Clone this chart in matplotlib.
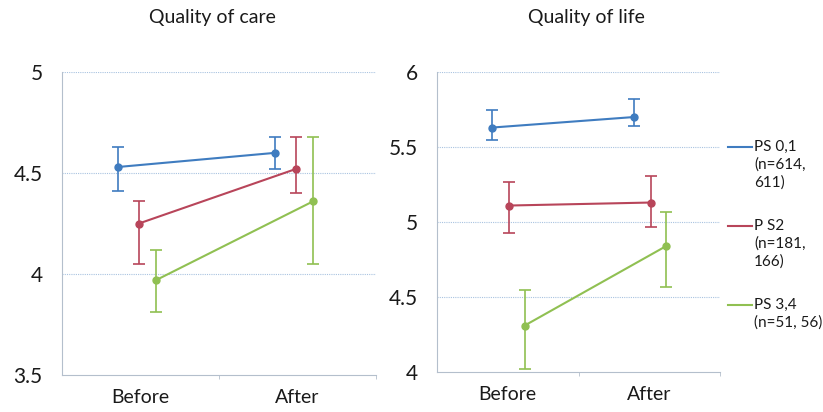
import matplotlib.pyplot as plt
from matplotlib.lines import Line2D

plt.rcParams["font.family"] = ["Lato", "DejaVu Sans"]

# Data
times = ["Before", "After"]
groups = ["PS 0,1\n(n=614,\n611)", "P S2\n(n=181,\n166)", "PS 3,4\n(n=51, 56)"]
colors = ["#3f7cc0", "#b8455a", "#90c052"]

care_mean = [[4.53, 4.60], [4.25, 4.52], [3.97, 4.36]]
care_low = [[4.41, 4.52], [4.05, 4.40], [3.81, 4.05]]
care_high = [[4.63, 4.68], [4.36, 4.68], [4.12, 4.68]]

life_mean = [[5.63, 5.70], [5.11, 5.13], [4.31, 4.84]]
life_low = [[5.55, 5.64], [4.93, 4.97], [4.02, 4.57]]
life_high = [[5.75, 5.82], [5.27, 5.31], [4.55, 5.07]]

fig = plt.figure(figsize=(8.23, 4.12), dpi=100)
ax1 = fig.add_axes([0.0753, 0.0898, 0.3815, 0.7354])
ax2 = fig.add_axes([0.531, 0.0971, 0.3439, 0.728])

grid_col = "#a9c3e0"
spine_col = "#b4bfcc"
text_col = "#1a1a1a"


def draw_panel(ax, mean, low, high, offsets, ylim, yticks, ylabels):
    for i in range(len(groups)):
        x = [t + offsets[i] for t in range(len(times))]
        yerr = [[m - l for m, l in zip(mean[i], low[i])],
                [h - m for m, h in zip(mean[i], high[i])]]
        ax.errorbar(x, mean[i], yerr=yerr, color=colors[i], lw=1.5,
                    marker="o", ms=5, capsize=4, capthick=1.2, elinewidth=1.2,
                    zorder=3)
    ax.set_xlim(-0.5, 1.5)
    ax.set_ylim(*ylim)
    ax.set_yticks(yticks)
    ax.set_yticklabels(ylabels, fontsize=15, color=text_col)
    ax.set_xticks(range(len(times)))
    ax.set_xticklabels(times, fontsize=14, color=text_col)
    ax.set_xticks([0.5, 1.5], minor=True)
    ax.tick_params(axis="y", length=0, pad=14)
    ax.tick_params(axis="x", which="major", length=0, pad=10)
    ax.tick_params(axis="x", which="minor", length=3, color=spine_col, direction="out")
    for y in yticks[1:]:
        ax.axhline(y, color=grid_col, lw=0.8, ls=(0, (1, 1)), zorder=1)
    for s in ["top", "right"]:
        ax.spines[s].set_visible(False)
    for s in ["left", "bottom"]:
        ax.spines[s].set_color(spine_col)
        ax.spines[s].set_linestyle((0, (1, 1)))
        ax.spines[s].set_linewidth(0.8)


draw_panel(ax1, care_mean, care_low, care_high, [-0.14, -0.01, 0.1],
           (3.5, 5.0), [3.5, 4.0, 4.5, 5.0], ["3.5", "4", "4.5", "5"])
draw_panel(ax2, life_mean, life_low, life_high, [-0.11, 0.01, 0.12],
           (4.0, 6.0), [4.0, 4.5, 5.0, 5.5, 6.0], ["4", "4.5", "5", "5.5", "6"])

fig.text(212 / 823, 1 - 18 / 412, "Quality of care", fontsize=14,
         ha="center", va="center", color=text_col)
fig.text(586 / 823, 1 - 18 / 412, "Quality of life", fontsize=14,
         ha="center", va="center", color=text_col)

# legend drawn by hand so the line sits at the first text line
legend_y = [147, 226, 305]
for i in range(len(groups)):
    yy = 1 - legend_y[i] / 412
    fig.add_artist(Line2D([728 / 823, 752 / 823], [yy, yy], color=colors[i],
                          lw=1.5, transform=fig.transFigure))
    fig.text(754 / 823, yy + 7 / 412, groups[i], fontsize=11, ha="left",
             va="top", color=text_col, linespacing=1.3)

fig.savefig("out.png", dpi=100)
